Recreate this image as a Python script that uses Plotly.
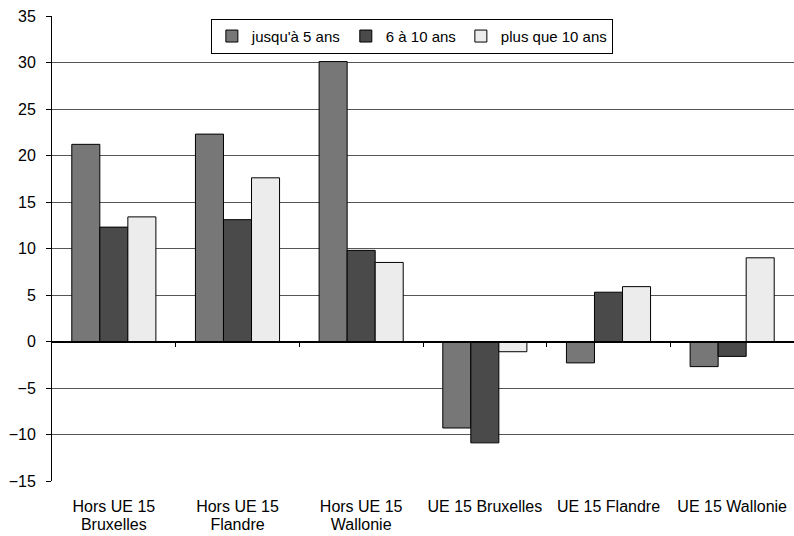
import plotly.graph_objects as go

categories = [
    "Hors UE 15 Bruxelles",
    "Hors UE 15 Flandre",
    "Hors UE 15 Wallonie",
    "UE 15 Bruxelles",
    "UE 15 Flandre",
    "UE 15 Wallonie",
]
label_line1 = ["Hors UE 15", "Hors UE 15", "Hors UE 15",
               "UE 15 Bruxelles", "UE 15 Flandre", "UE 15 Wallonie"]
label_line2 = ["Bruxelles", "Flandre", "Wallonie", "", "", ""]
series_names = ["jusqu'à 5 ans", "6 à 10 ans", "plus que 10 ans"]
jusqua_5 = [21.2, 22.3, 30.1, -9.3, -2.3, -2.7]
de_6_a_10 = [12.3, 13.1, 9.8, -10.9, 5.3, -1.6]
plus_10 = [13.4, 17.6, 8.5, -1.1, 5.9, 9.0]
series_values = [jusqua_5, de_6_a_10, plus_10]
colors = ["#777777", "#4a4a4a", "#ececec"]
y_ticks = list(range(-15, 40, 5))

fig = go.Figure()
for name, vals, col in zip(series_names, series_values, colors):
    fig.add_trace(go.Bar(
        x=categories, y=vals, name=name,
        marker=dict(color=col, line=dict(color="black", width=1)),
    ))

# invisible helper traces so the auxiliary axes get rendered
idx = list(range(len(categories)))
for ax in ("x2", "x3"):
    fig.add_trace(go.Scatter(
        x=idx, y=[0] * len(idx), xaxis=ax, mode="markers",
        marker=dict(opacity=0), showlegend=False, hoverinfo="skip",
    ))

font = dict(family="Arial, Liberation Sans, sans-serif", size=16, color="black")
legend_font = dict(family="Arial, Liberation Sans, sans-serif", size=15, color="black")
fig.update_layout(
    width=794, height=536,
    margin=dict(l=52, r=0, t=16, b=55),
    plot_bgcolor="white", paper_bgcolor="white",
    font=font,
    barmode="group", bargap=0.32, bargroupgap=0,
    # first line of the category labels
    xaxis=dict(
        tickvals=categories, ticktext=label_line1,
        showgrid=False, showline=False, ticks="", zeroline=False,
        tickfont=font, ticklabelstandoff=14,
    ),
    # category separators along the zero level
    xaxis2=dict(
        overlaying="x", anchor="free", position=0.3, side="bottom",
        range=[-0.5, 5.5], tickvals=[0.5, 1.5, 2.5, 3.5, 4.5, 5.5],
        showticklabels=False, ticks="outside", ticklen=4, tickcolor="black",
        showline=True, linecolor="black", linewidth=2, showgrid=False,
        zeroline=False,
    ),
    # second line of the category labels
    xaxis3=dict(
        overlaying="x", anchor="y", side="bottom",
        range=[-0.5, 5.5], tickvals=idx, ticktext=label_line2,
        showgrid=False, showline=False, ticks="", zeroline=False,
        tickfont=font, ticklabelstandoff=32,
    ),
    yaxis=dict(
        range=[-15, 35], tickvals=y_ticks,
        showgrid=True, gridcolor="#555555", gridwidth=1,
        zeroline=False,
        showline=True, linecolor="black", linewidth=1,
        ticks="outside", ticklen=5, tickcolor="black",
        tickfont=font, ticklabelstandoff=7,
    ),
    legend=dict(
        orientation="h", x=0.485, xanchor="center", y=0.994, yanchor="top",
        bgcolor="white", bordercolor="black", borderwidth=1,
        font=legend_font, itemwidth=30, traceorder="normal",
    ),
)

fig.write_html("out.html")
